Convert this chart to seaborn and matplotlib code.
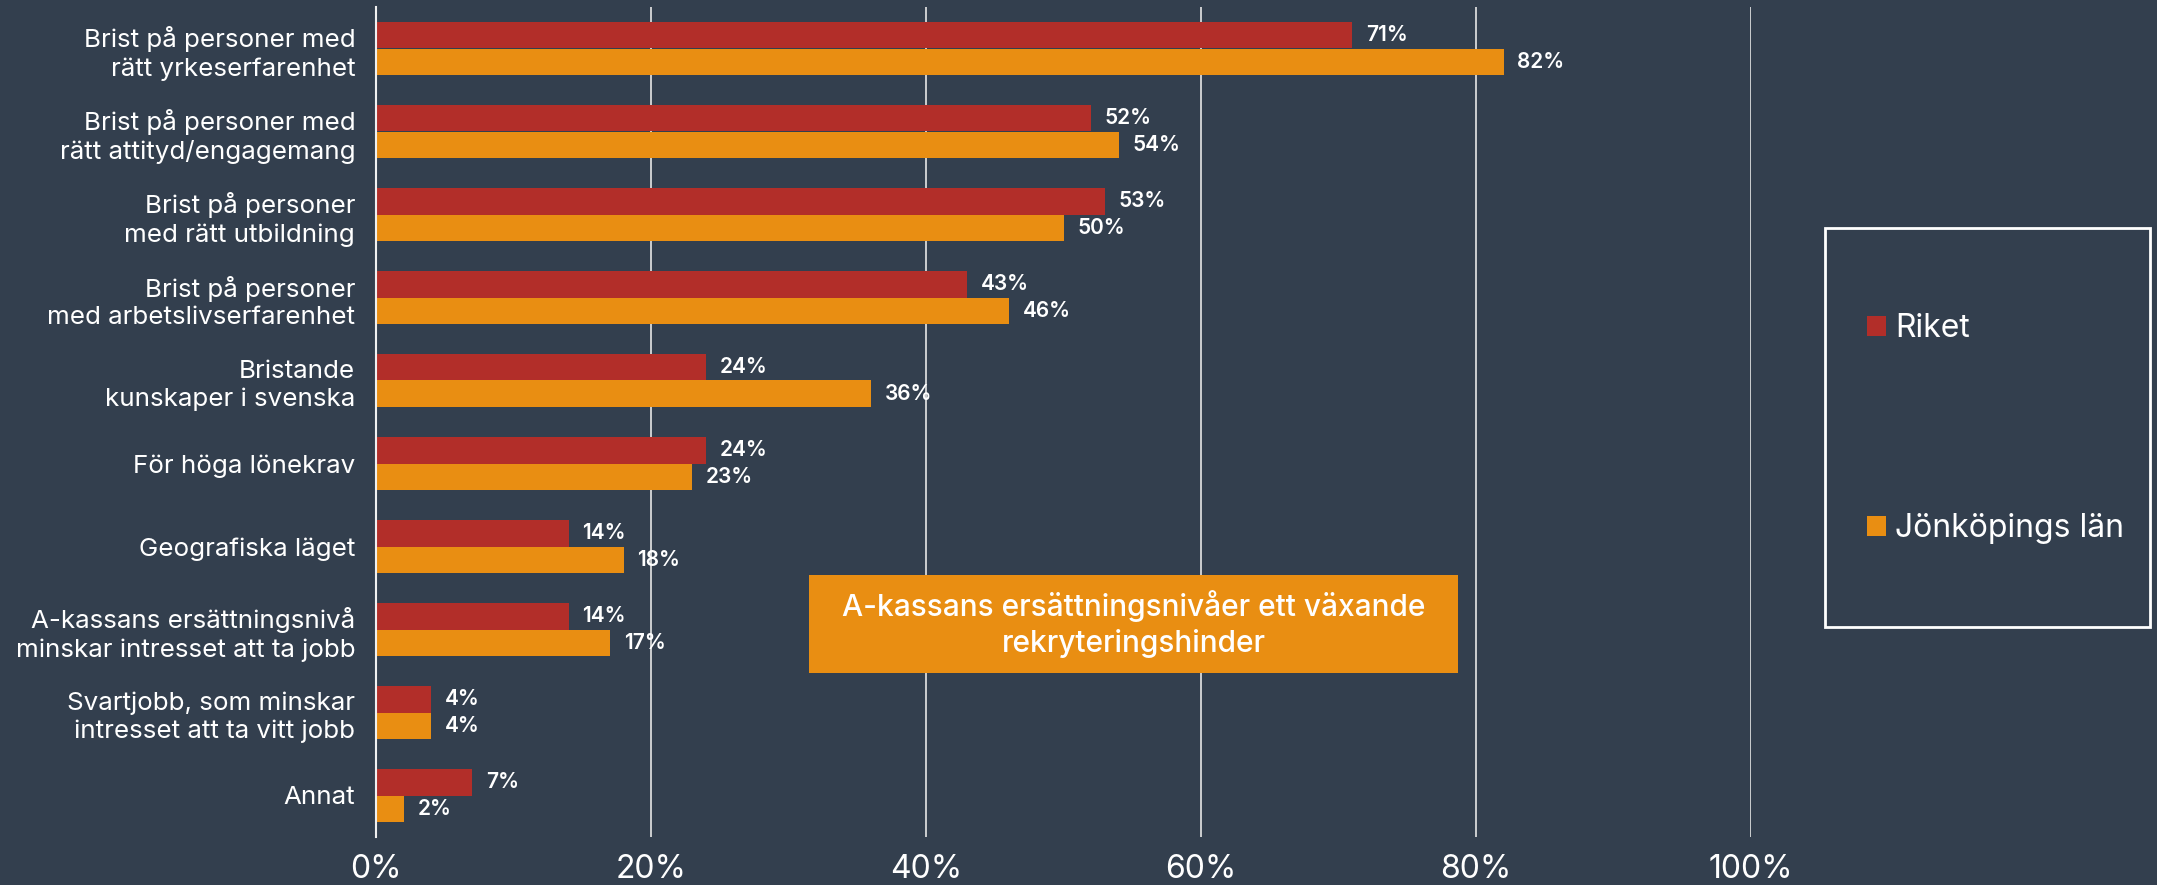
import matplotlib
matplotlib.use("Agg")
import matplotlib.pyplot as plt
import seaborn as sns
import pandas as pd
from matplotlib.patches import Rectangle, Patch
from matplotlib.ticker import FuncFormatter

categories = [
    "Brist på personer med\nrätt yrkeserfarenhet",
    "Brist på personer med\nrätt attityd/engagemang",
    "Brist på personer\nmed rätt utbildning",
    "Brist på personer\nmed arbetslivserfarenhet",
    "Bristande\nkunskaper i svenska",
    "För höga lönekrav",
    "Geografiska läget",
    "A-kassans ersättningsnivå\nminskar intresset att ta jobb",
    "Svartjobb, som minskar\nintresset att ta vitt jobb",
    "Annat",
]
series_names = ["Riket", "Jönköpings län"]
riket = [71, 52, 53, 43, 24, 24, 14, 14, 4, 7]
jonkoping = [82, 54, 50, 46, 36, 23, 18, 17, 4, 2]
x_ticks = [0, 20, 40, 60, 80, 100]
annotation = "A-kassans ersättningsnivåer ett växande\nrekryteringshinder"

BG = "#333F4E"
RED = "#B22E29"
ORANGE = "#E98E12"
FONT = ["Inter", "DejaVu Sans"]

df = pd.DataFrame({
    "Kategori": categories * 2,
    "Serie": [series_names[0]] * len(categories) + [series_names[1]] * len(categories),
    "Andel": riket + jonkoping,
})

sns.set_theme(style="white")
plt.rcParams["font.family"] = FONT
plt.rcParams["text.color"] = "white"

fig = plt.figure(figsize=(21.57, 8.85), dpi=100, facecolor=BG)
ax = fig.add_axes([376 / 2157, 1 - 837 / 885, (1751 - 376) / 2157, 830 / 885])
ax.set_facecolor(BG)

sns.barplot(data=df, y="Kategori", x="Andel", hue="Serie", order=categories,
            hue_order=series_names, palette=[RED, ORANGE], orient="h",
            width=0.65, linewidth=0, saturation=1, ax=ax, legend=False, zorder=3)

for cont in ax.containers:
    ax.bar_label(cont, fmt="%.0f%%", padding=10, color="white", fontsize=15,
                 fontweight="semibold", zorder=4)

ax.set_xlim(0, 100)
ax.set_xticks(x_ticks)
ax.xaxis.set_major_formatter(FuncFormatter(lambda v, p: f"{v:.0f}%"))
ax.grid(axis="x", color="#E6E6E6", linewidth=1.2, zorder=0)
ax.grid(axis="y", visible=False)
for s in ["top", "right", "bottom"]:
    ax.spines[s].set_visible(False)
ax.spines["left"].set_color("#F0F0F0")
ax.spines["left"].set_linewidth(1.5)
ax.spines["left"].set_zorder(5)
ax.set_xlabel("")
ax.set_ylabel("")
ax.tick_params(axis="x", length=0, pad=12, labelsize=23, labelcolor="white")
ax.tick_params(axis="y", length=0, pad=15, labelsize=18.7, labelcolor="white")
for t in ax.get_yticklabels():
    t.set_linespacing(1.27)
    t.set_horizontalalignment("right")

# annotation box
ax.add_patch(Rectangle((0.315, 0.1976), 0.472, 0.118, transform=ax.transAxes,
                       facecolor=ORANGE, edgecolor="none", zorder=6))
ax.text(0.315 + 0.236, 0.1976 + 0.059, annotation, transform=ax.transAxes,
        ha="center", va="center", fontsize=21.5, color="white", linespacing=1.3,
        fontweight="medium", zorder=7)

# legend with custom frame
fig.patches.append(Rectangle((1825 / 2157, 1 - 627 / 885), 325 / 2157, 399 / 885,
                             transform=fig.transFigure, facecolor="none",
                             edgecolor="white", linewidth=2, zorder=1))
handles = [Patch(facecolor=RED, edgecolor="none"), Patch(facecolor=ORANGE, edgecolor="none")]
leg = fig.legend(handles, series_names, loc="upper left",
                 bbox_to_anchor=(1867 / 2157, 1 - 313 / 885), frameon=False,
                 fontsize=23, labelcolor="white", handlelength=0.58, handleheight=0.58,
                 handletextpad=0.3, labelspacing=5.3, borderpad=0, borderaxespad=0)

fig.savefig("out.png", dpi=100, facecolor=BG)
